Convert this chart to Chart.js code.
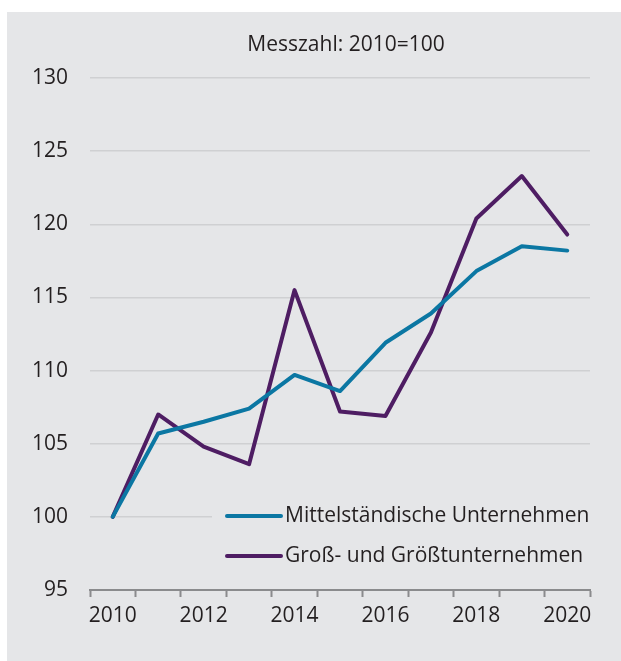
<!DOCTYPE html>
<html>
<head>
<meta charset="utf-8">
<script src="https://cdn.jsdelivr.net/npm/chart.js@4.4.1/dist/chart.umd.min.js"></script>
<style>
  html, body { margin: 0; padding: 0; background: #ffffff; width: 621px; height: 661px; overflow: hidden; }
  #wrap { position: absolute; left: 7px; top: 12px; width: 614px; height: 649px; background: #e5e6e8; }
  canvas { display: block; }
</style>
</head>
<body>
<div id="wrap"><canvas id="c" width="614" height="649"></canvas></div>
<script>
// ---- data ----
const years = [2010, 2011, 2012, 2013, 2014, 2015, 2016, 2017, 2018, 2019, 2020];
const mittelstand = [100, 105.7, 106.5, 107.4, 109.7, 108.6, 111.9, 113.9, 116.8, 118.5, 118.2];
const grossUnternehmen = [100, 107.0, 104.8, 103.6, 115.5, 107.2, 106.9, 112.6, 120.4, 123.3, 119.3];
const seriesLabels = ['Mittelständische Unternehmen', 'Groß- und Größtunternehmen'];
const xTickLabels = ['2010', '2012', '2014', '2016', '2018', '2020'];
const yTicks = [95, 100, 105, 110, 115, 120, 125, 130];
const titleText = 'Messzahl: 2010=100';

const FONT = '"Open Sans", "Noto Sans", sans-serif';
const TEXT = '#231f20';
const COLORS = ['#0b77a3', '#4e1d63'];

const toPoints = vals => years.map((y, i) => ({ x: y, y: vals[i] }));
const boundaries = [];
for (let i = 0; i <= years.length; i++) boundaries.push(years[0] - 0.5 + i);
const xTickValues = xTickLabels.map(Number);
const labelMap = {};
xTickValues.forEach((v, i) => { labelMap[v] = xTickLabels[i]; });

const decor = {
  id: 'decor',
  afterDraw(chart) {
    const ctx = chart.ctx;
    const a = chart.chartArea;
    ctx.save();
    // title
    ctx.fillStyle = TEXT;
    ctx.font = '21px ' + FONT;
    ctx.textAlign = 'center';
    ctx.textBaseline = 'middle';
    ctx.fillText(titleText, (a.left + a.right) / 2 + 6, a.top - 33);
    // legend background
    ctx.fillStyle = '#e5e6e8';
    ctx.fillRect(a.left + 122, a.bottom - 95, a.right - a.left - 122 + 2, 88);
    // legend items
    chart.data.datasets.forEach((ds, i) => {
      const y = a.bottom - 74 + i * 40;
      const x1 = a.left + 137, x2 = a.left + 191;
      ctx.strokeStyle = ds.borderColor;
      ctx.lineWidth = 4;
      ctx.lineCap = 'round';
      ctx.beginPath(); ctx.moveTo(x1, y); ctx.lineTo(x2, y); ctx.stroke();
      ctx.fillStyle = TEXT;
      ctx.font = '21px ' + FONT;
      ctx.textAlign = 'left';
      ctx.textBaseline = 'middle';
      ctx.fillText(ds.label, x2 + 4, y);
    });
    ctx.restore();
  }
};

new Chart(document.getElementById('c'), {
  type: 'line',
  data: {
    datasets: [
      { label: seriesLabels[0], data: toPoints(mittelstand), borderColor: COLORS[0], backgroundColor: COLORS[0] },
      { label: seriesLabels[1], data: toPoints(grossUnternehmen), borderColor: COLORS[1], backgroundColor: COLORS[1] }
    ]
  },
  options: {
    responsive: false,
    animation: false,
    events: [],
    layout: { padding: { top: 66, right: 31, left: 0, bottom: 0 } },
    elements: {
      line: { borderWidth: 4, tension: 0, borderJoinStyle: 'round', borderCapStyle: 'round' },
      point: { radius: 0, hoverRadius: 0 }
    },
    plugins: { legend: { display: false }, title: { display: false }, tooltip: { enabled: false } },
    scales: {
      x: {
        type: 'linear',
        min: years[0] - 0.5,
        max: years[years.length - 1] + 0.5,
        afterBuildTicks(axis) {
          const vals = boundaries.concat(xTickValues).sort((p, q) => p - q);
          axis.ticks = vals.map(v => ({ value: v }));
        },
        afterFit(axis) { axis.height = 71; },
        grid: {
          drawOnChartArea: false,
          drawTicks: true,
          tickLength: 7,
          tickWidth: 2,
          tickColor: ctx => (ctx.tick && boundaries.includes(ctx.tick.value)) ? '#8a8b8d' : 'rgba(0,0,0,0)'
        },
        border: { display: true, color: '#8a8b8d', width: 2 },
        ticks: {
          autoSkip: false,
          maxRotation: 0,
          minRotation: 0,
          padding: 6,
          color: TEXT,
          font: { family: FONT, size: 21 },
          callback: v => labelMap[v] !== undefined ? labelMap[v] : ''
        }
      },
      y: {
        min: 95,
        max: 130,
        afterBuildTicks(axis) { axis.ticks = yTicks.map(v => ({ value: v })); },
        afterFit(axis) { axis.width = 83; },
        grid: { color: '#cfd0d2', lineWidth: 1.5, drawTicks: false },
        border: { display: false },
        ticks: {
          padding: 22,
          color: TEXT,
          font: { family: FONT, size: 21 }
        }
      }
    }
  },
  plugins: [decor]
});
</script>
</body>
</html>
